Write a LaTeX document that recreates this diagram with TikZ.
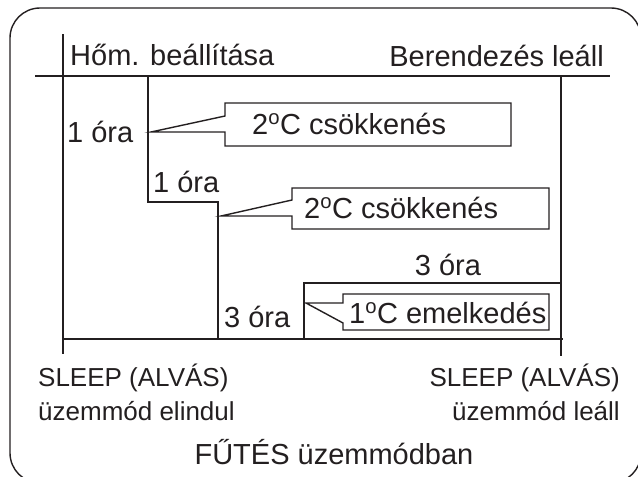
\documentclass[tikz,border=0pt]{standalone}
\usepackage{fontspec}
\setmainfont{Liberation Sans}
\definecolor{ink}{HTML}{231F20}
\tikzset{
  thinline/.style={draw=ink, line width=1.4pt},
  thickline/.style={draw=ink, line width=2.4pt},
  callout/.style={draw=ink, line width=1.4pt, line join=miter},
  big/.style={inner sep=0pt, text=ink, font=\fontsize{29}{33}\selectfont},
  small/.style={inner sep=0pt, text=ink, font=\fontsize{26}{30}\selectfont},
}
\newcommand{\dg}{\textsuperscript{o}}
\begin{document}
\begin{tikzpicture}[x=1pt,y=-1pt]
\useasboundingbox (0,0) rectangle (638,477);
% frame (partly cropped)
\begin{scope}
\clip (0,0) rectangle (638,477);
\draw[thinline, rounded corners=30pt] (10,8) rectangle (641,483);
\end{scope}
% axes
\coordinate (tl) at (35,76);
\coordinate (tr) at (610,76);
\coordinate (lt) at (63,34);
\coordinate (lb) at (63,354);
\coordinate (bl) at (63,339);
\coordinate (br) at (563,339);
\coordinate (rt) at (561,76);
\coordinate (rb) at (561,356);
\draw[thinline] (tl) -- (tr);
\draw[thinline] (lt) -- (lb);
\draw[thinline] (bl) -- (br);
\draw[thinline] (rt) -- (rb);
% step curve
\coordinate (s0) at (148,76);
\coordinate (s1) at (148,202);
\coordinate (s2) at (218,202);
\coordinate (s3) at (218,339);
\coordinate (u0) at (304,339);
\coordinate (u1) at (304,283);
\coordinate (u2) at (561,283);
\draw[thickline] (s0) -- (s1) -- (s2) -- (s3);
\draw[thickline] (u0) -- (u1) -- (u2);
% callouts
\draw[callout] (225,103) -| (511,146) -| (225,132) -- (151,132) -- (225,116) -- cycle;
\draw[callout] (292,188) -| (549,229) -| (292,216) -- (221,216) -- (292,200) -- cycle;
\draw[callout] (343,294) -| (549,330) -| (343,323) -- (306,303) -- (343,303) -- cycle;
% texts
\node[big, anchor=base west] (hom) at (70,65) {Hőm. beállítása};
\node[big, anchor=base east] (ber) at (604,66) {Berendezés leáll};
\node[big, anchor=base west] (o1) at (67,142) {1 óra};
\node[big, anchor=base west] (o2) at (153,192) {1 óra};
\node[big, anchor=base west] (c1) at (252,134) {2\dg C csökkenés};
\node[big, anchor=base west] (c2) at (304,218) {2\dg C csökkenés};
\node[big, anchor=base] (o3) at (448,275) {3 óra};
\node[big, anchor=base west] (o4) at (224,327) {3 óra};
\node[big, anchor=base west] (c3) at (349,323) {1\dg C emelkedés};
\node[small, anchor=base west] (sl1) at (38,386) {SLEEP (ALVÁS)};
\node[small, anchor=base west] (sl2) at (38,420) {üzemmód elindul};
\node[small, anchor=base east] (sr1) at (620,386) {SLEEP (ALVÁS)};
\node[small, anchor=base east] (sr2) at (620,420) {üzemmód leáll};
\node[big, anchor=base] (fut) at (334,464) {FŰTÉS üzemmódban};
\end{tikzpicture}
\end{document}
